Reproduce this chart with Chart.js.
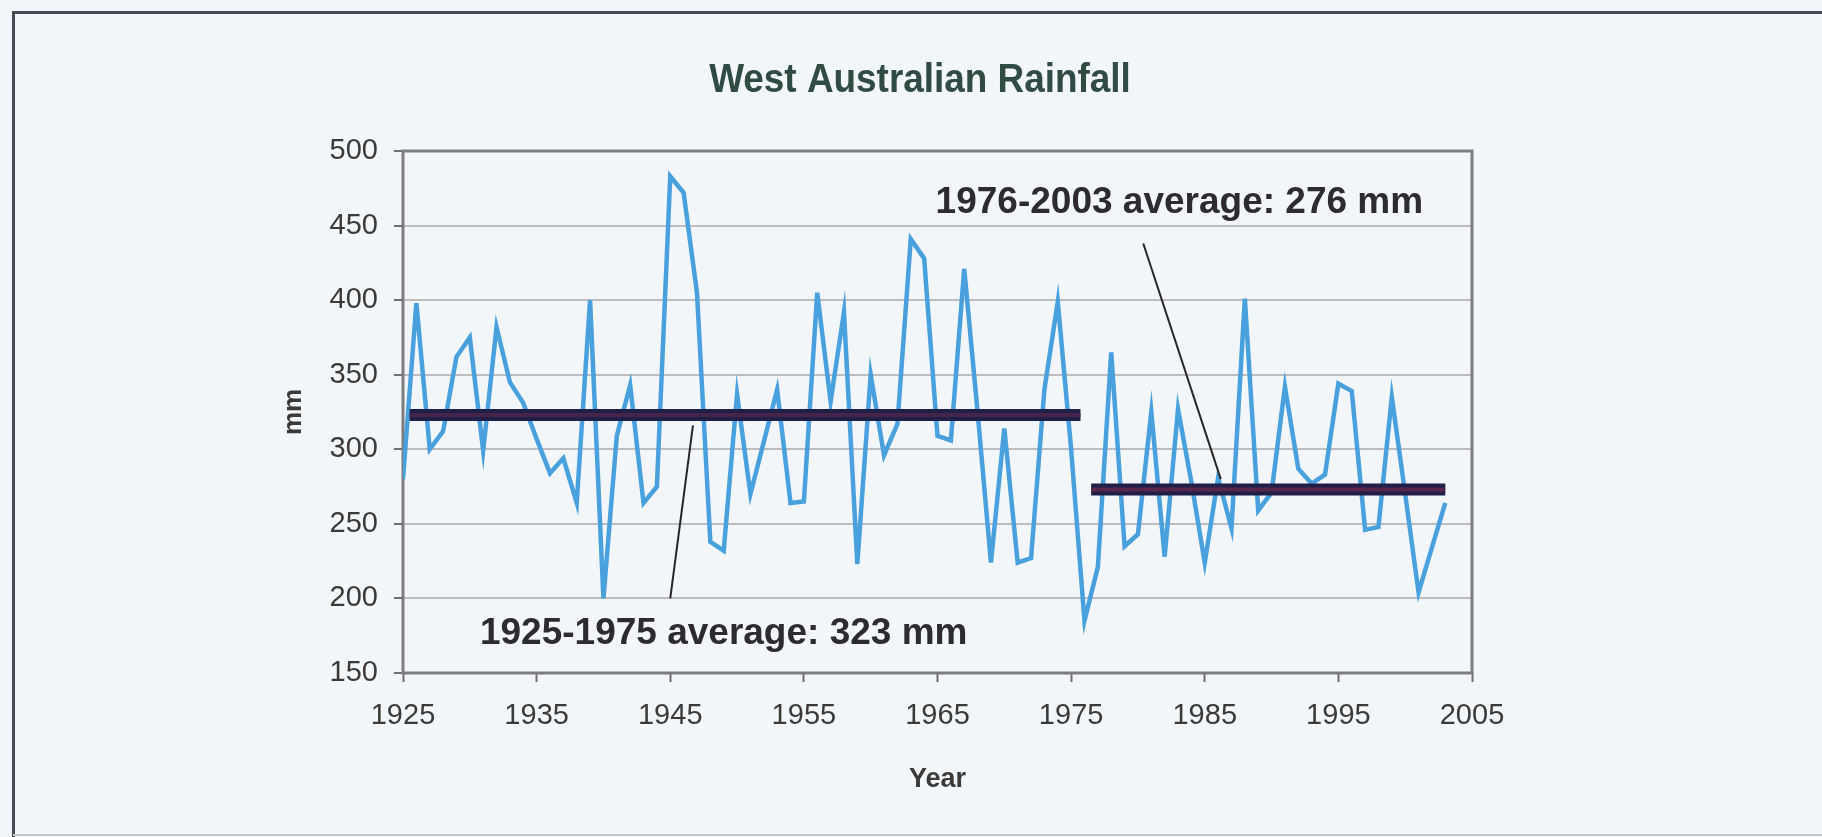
<!DOCTYPE html>
<html>
<head>
<meta charset="utf-8">
<script src="https://cdn.jsdelivr.net/npm/chart.js@4.4.1/dist/chart.umd.min.js"></script>
<style>
  html, body { margin: 0; padding: 0; background: #f3f6f8; }
  #wrap { width: 1822px; height: 837px; }
</style>
</head>
<body>
<div id="wrap"><canvas id="c" width="1822" height="837"></canvas></div>
<script>
// ---- data ----
const chartTitle = 'West Australian Rainfall';
const xAxisTitle = 'Year';
const yAxisTitle = 'mm';
const years = [];
for (let y = 1925; y <= 2003; y++) years.push(y);
const rainfall = [
  280, 398, 300, 312, 362, 375, 299, 382, 345, 331,   // 1925-1934
  307, 284, 294, 264, 400, 200, 309, 343, 264, 275,   // 1935-1944
  483, 472, 405, 238, 232, 337, 270, 305, 340, 264,   // 1945-1954
  265, 405, 332, 392, 223, 350, 296, 317, 441, 428,   // 1955-1964
  309, 306, 421, 325, 224, 314, 224, 227, 340, 399,   // 1965-1974
  300, 185, 221, 365, 235, 243, 325, 228, 327, 278,   // 1975-1984
  224, 281, 247, 401, 259, 271, 342, 287, 277, 283,   // 1985-1994
  344, 339, 246, 248, 335, 270, 204, 234, 264         // 1995-2003
];
const xTickLabels = [1925, 1935, 1945, 1955, 1965, 1975, 1985, 1995, 2005];
const yTickLabels = [150, 200, 250, 300, 350, 400, 450, 500];
// average lines (drawn extent in years, drawn level in mm)
const avg1Years = [1925.5, 1975.7];
const avg1Level = [323, 323];
const avg2Years = [1976.5, 2003];
const avg2Level = [273, 273];
// annotation labels and pointer lines
const annoLabels = ['1925-1975 average: 323 mm', '1976-2003 average: 276 mm'];
const annoLabelX = [1949.0, 1983.1];
const annoLabelY = [169.4, 458.5];
const pointer1X = [1945.0, 1946.7];
const pointer1Y = [200, 316];
const pointer2X = [1980.4, 1986.2];
const pointer2Y = [438, 280];

const toXY = (xs, ys) => xs.map((x, i) => ({ x: x, y: ys[i] }));

const framePlugin = {
  id: 'frame',
  beforeDraw(chart) {
    const ctx = chart.ctx;
    ctx.save();
    ctx.fillStyle = '#f3f6f8';
    ctx.fillRect(0, 0, chart.width, chart.height);
    // outer frame
    ctx.strokeStyle = '#4b4b55';
    ctx.lineWidth = 3;
    ctx.beginPath();
    ctx.moveTo(13.5, chart.height);
    ctx.lineTo(13.5, 12.5);
    ctx.lineTo(chart.width, 12.5);
    ctx.stroke();
    ctx.strokeStyle = '#c4c7cc';
    ctx.lineWidth = 2;
    ctx.beginPath();
    ctx.moveTo(13, chart.height - 2);
    ctx.lineTo(chart.width, chart.height - 2);
    ctx.stroke();
    // title (slightly condensed, as in the original)
    ctx.fillStyle = '#2f4b44';
    ctx.font = 'bold 41px "Liberation Sans", Arial, sans-serif';
    ctx.textAlign = 'center';
    ctx.textBaseline = 'alphabetic';
    ctx.translate(920, 92);
    ctx.scale(0.9, 1);
    ctx.fillText(chartTitle, 0, 0);
    ctx.restore();
  },
  beforeDatasetsDraw(chart) {
    const a = chart.chartArea;
    const ctx = chart.ctx;
    ctx.save();
    ctx.strokeStyle = '#7d7d80';
    ctx.lineWidth = 3;
    ctx.strokeRect(a.left, a.top, a.right - a.left, a.bottom - a.top);
    ctx.restore();
  },
  afterDatasetsDraw(chart) {
    const ctx = chart.ctx;
    const xs = chart.scales.x, ys = chart.scales.y;
    ctx.save();
    ctx.fillStyle = '#2b2b30';
    ctx.font = 'bold 37px "Liberation Sans", Arial, sans-serif';
    ctx.textAlign = 'center';
    ctx.textBaseline = 'alphabetic';
    annoLabels.forEach((t, i) => {
      ctx.fillText(t, xs.getPixelForValue(annoLabelX[i]), ys.getPixelForValue(annoLabelY[i]));
    });
    ctx.restore();
  }
};

new Chart(document.getElementById('c'), {
  type: 'line',
  data: {
    datasets: [
      {
        label: 'Rainfall',
        data: toXY(years, rainfall),
        borderColor: '#48a0dc',
        borderWidth: 4.5,
        pointRadius: 0,
        tension: 0,
        order: 3
      },
      {
        label: '1925-1975 average',
        data: toXY(avg1Years, avg1Level),
        borderColor: '#201f47',
        borderWidth: 12,
        borderCapStyle: 'butt',
        pointRadius: 0,
        order: 2
      },
      {
        label: '1925-1975 average inner',
        data: toXY(avg1Years, avg1Level),
        borderColor: '#45244a',
        borderWidth: 4,
        borderCapStyle: 'butt',
        pointRadius: 0,
        order: 1
      },
      {
        label: '1976-2003 average',
        data: toXY(avg2Years, avg2Level),
        borderColor: '#201f47',
        borderWidth: 12,
        borderCapStyle: 'butt',
        pointRadius: 0,
        order: 2
      },
      {
        label: '1976-2003 average inner',
        data: toXY(avg2Years, avg2Level),
        borderColor: '#55264a',
        borderWidth: 4,
        borderCapStyle: 'butt',
        pointRadius: 0,
        order: 1
      },
      {
        label: 'pointer 1',
        data: toXY(pointer1X, pointer1Y),
        borderColor: '#262626',
        borderWidth: 2,
        pointRadius: 0,
        clip: false,
        order: 0
      },
      {
        label: 'pointer 2',
        data: toXY(pointer2X, pointer2Y),
        borderColor: '#262626',
        borderWidth: 2,
        pointRadius: 0,
        clip: false,
        order: 0
      }
    ]
  },
  options: {
    responsive: false,
    animation: false,
    devicePixelRatio: 1,
    layout: { padding: { top: 151, right: 350, bottom: 0, left: 0 } },
    plugins: {
      legend: { display: false },
      title: { display: false },
      tooltip: { enabled: false }
    },
    scales: {
      x: {
        type: 'linear',
        min: 1925,
        max: 2005,
        afterBuildTicks(scale) { scale.ticks = xTickLabels.map(v => ({ value: v })); },
        afterFit(scale) { scale.height = 164; },
        ticks: {
          callback: v => String(v),
          color: '#3a3a3a',
          font: { family: '"Liberation Sans", Arial, sans-serif', size: 29 },
          padding: 17,
          maxRotation: 0,
          autoSkip: false
        },
        grid: {
          drawOnChartArea: false,
          drawTicks: true,
          tickLength: 9,
          tickColor: '#6e6e70',
          tickWidth: 2
        },
        border: { display: false },
        title: {
          display: true,
          text: xAxisTitle,
          color: '#3a3a3a',
          font: { family: '"Liberation Sans", Arial, sans-serif', size: 27, weight: 'bold' },
          padding: { top: 0, bottom: 41 }
        }
      },
      y: {
        min: 150,
        max: 500,
        afterBuildTicks(scale) { scale.ticks = yTickLabels.map(v => ({ value: v })); },
        afterFit(scale) { scale.width = 403; },
        ticks: {
          callback: v => String(v),
          color: '#3a3a3a',
          font: { family: '"Liberation Sans", Arial, sans-serif', size: 29 },
          padding: 16
        },
        grid: {
          color: '#bdbdc0',
          lineWidth: 2,
          drawTicks: true,
          tickLength: 9,
          tickColor: '#6e6e70',
          tickWidth: 2
        },
        border: { display: false },
        title: {
          display: true,
          text: yAxisTitle,
          color: '#3a3a3a',
          font: { family: '"Liberation Sans", Arial, sans-serif', size: 26, weight: 'bold' },
          padding: { top: 278, bottom: 0 }
        }
      }
    }
  },
  plugins: [framePlugin]
});
</script>
</body>
</html>
